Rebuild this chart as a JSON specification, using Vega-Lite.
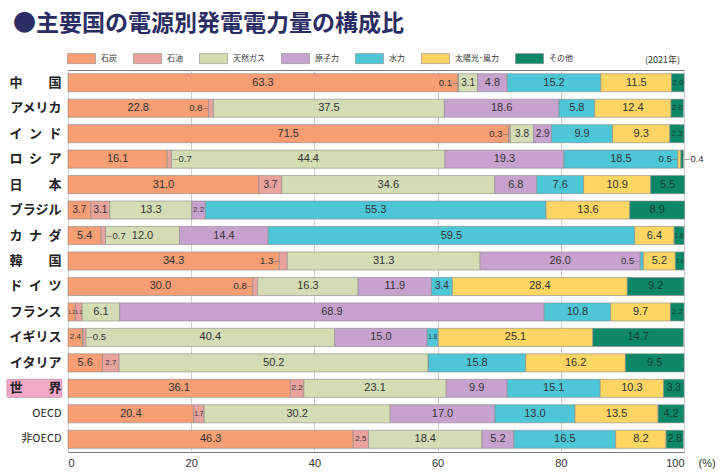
{
  "$schema": "https://vega.github.io/schema/vega-lite/v6.json",
  "width": 616,
  "height": 382,
  "autosize": {"type": "none"},
  "padding": {"left": 68, "top": 70, "right": 43, "bottom": 20},
  "background": "#ffffff",
  "config": {
    "font": "Noto Sans CJK JP",
    "view": {"stroke": "#7a7a7a", "strokeWidth": 1}
  },
  "title": {
    "text": "●主要国の電源別発電電力量の構成比",
    "anchor": "start",
    "frame": "group",
    "fontSize": 23,
    "fontWeight": "bold",
    "color": "#2a2d63",
    "font": "Noto Sans CJK JP",
    "dx": -55,
    "offset": 8
  },
  "data": {
    "values": [
      {"c": "中\u3000\u3000国", "s": "石炭", "v": 63.3}, {"c": "中\u3000\u3000国", "s": "石油", "v": 0.1}, {"c": "中\u3000\u3000国", "s": "天然ガス", "v": 3.1}, {"c": "中\u3000\u3000国", "s": "原子力", "v": 4.8}, {"c": "中\u3000\u3000国", "s": "水力", "v": 15.2}, {"c": "中\u3000\u3000国", "s": "太陽光･風力", "v": 11.5}, {"c": "中\u3000\u3000国", "s": "その他", "v": 2.0},
      {"c": "アメリカ", "s": "石炭", "v": 22.8}, {"c": "アメリカ", "s": "石油", "v": 0.8}, {"c": "アメリカ", "s": "天然ガス", "v": 37.5}, {"c": "アメリカ", "s": "原子力", "v": 18.6}, {"c": "アメリカ", "s": "水力", "v": 5.8}, {"c": "アメリカ", "s": "太陽光･風力", "v": 12.4}, {"c": "アメリカ", "s": "その他", "v": 2.0},
      {"c": "イ\u2002ン\u2002ド", "s": "石炭", "v": 71.5}, {"c": "イ\u2002ン\u2002ド", "s": "石油", "v": 0.3}, {"c": "イ\u2002ン\u2002ド", "s": "天然ガス", "v": 3.8}, {"c": "イ\u2002ン\u2002ド", "s": "原子力", "v": 2.9}, {"c": "イ\u2002ン\u2002ド", "s": "水力", "v": 9.9}, {"c": "イ\u2002ン\u2002ド", "s": "太陽光･風力", "v": 9.3}, {"c": "イ\u2002ン\u2002ド", "s": "その他", "v": 2.3},
      {"c": "ロ\u2002シ\u2002ア", "s": "石炭", "v": 16.1}, {"c": "ロ\u2002シ\u2002ア", "s": "石油", "v": 0.7}, {"c": "ロ\u2002シ\u2002ア", "s": "天然ガス", "v": 44.4}, {"c": "ロ\u2002シ\u2002ア", "s": "原子力", "v": 19.3}, {"c": "ロ\u2002シ\u2002ア", "s": "水力", "v": 18.5}, {"c": "ロ\u2002シ\u2002ア", "s": "太陽光･風力", "v": 0.5}, {"c": "ロ\u2002シ\u2002ア", "s": "その他", "v": 0.4},
      {"c": "日\u3000\u3000本", "s": "石炭", "v": 31.0}, {"c": "日\u3000\u3000本", "s": "石油", "v": 3.7}, {"c": "日\u3000\u3000本", "s": "天然ガス", "v": 34.6}, {"c": "日\u3000\u3000本", "s": "原子力", "v": 6.8}, {"c": "日\u3000\u3000本", "s": "水力", "v": 7.6}, {"c": "日\u3000\u3000本", "s": "太陽光･風力", "v": 10.9}, {"c": "日\u3000\u3000本", "s": "その他", "v": 5.5},
      {"c": "ブラジル", "s": "石炭", "v": 3.7}, {"c": "ブラジル", "s": "石油", "v": 3.1}, {"c": "ブラジル", "s": "天然ガス", "v": 13.3}, {"c": "ブラジル", "s": "原子力", "v": 2.2}, {"c": "ブラジル", "s": "水力", "v": 55.3}, {"c": "ブラジル", "s": "太陽光･風力", "v": 13.6}, {"c": "ブラジル", "s": "その他", "v": 8.9},
      {"c": "カ\u2002ナ\u2002ダ", "s": "石炭", "v": 5.4}, {"c": "カ\u2002ナ\u2002ダ", "s": "石油", "v": 0.7}, {"c": "カ\u2002ナ\u2002ダ", "s": "天然ガス", "v": 12.0}, {"c": "カ\u2002ナ\u2002ダ", "s": "原子力", "v": 14.4}, {"c": "カ\u2002ナ\u2002ダ", "s": "水力", "v": 59.5}, {"c": "カ\u2002ナ\u2002ダ", "s": "太陽光･風力", "v": 6.4}, {"c": "カ\u2002ナ\u2002ダ", "s": "その他", "v": 1.6},
      {"c": "韓\u3000\u3000国", "s": "石炭", "v": 34.3}, {"c": "韓\u3000\u3000国", "s": "石油", "v": 1.3}, {"c": "韓\u3000\u3000国", "s": "天然ガス", "v": 31.3}, {"c": "韓\u3000\u3000国", "s": "原子力", "v": 26.0}, {"c": "韓\u3000\u3000国", "s": "水力", "v": 0.5}, {"c": "韓\u3000\u3000国", "s": "太陽光･風力", "v": 5.2}, {"c": "韓\u3000\u3000国", "s": "その他", "v": 1.4},
      {"c": "ド\u2002イ\u2002ツ", "s": "石炭", "v": 30.0}, {"c": "ド\u2002イ\u2002ツ", "s": "石油", "v": 0.8}, {"c": "ド\u2002イ\u2002ツ", "s": "天然ガス", "v": 16.3}, {"c": "ド\u2002イ\u2002ツ", "s": "原子力", "v": 11.9}, {"c": "ド\u2002イ\u2002ツ", "s": "水力", "v": 3.4}, {"c": "ド\u2002イ\u2002ツ", "s": "太陽光･風力", "v": 28.4}, {"c": "ド\u2002イ\u2002ツ", "s": "その他", "v": 9.2},
      {"c": "フランス", "s": "石炭", "v": 1.2}, {"c": "フランス", "s": "石油", "v": 1.1}, {"c": "フランス", "s": "天然ガス", "v": 6.1}, {"c": "フランス", "s": "原子力", "v": 68.9}, {"c": "フランス", "s": "水力", "v": 10.8}, {"c": "フランス", "s": "太陽光･風力", "v": 9.7}, {"c": "フランス", "s": "その他", "v": 2.2},
      {"c": "イギリス", "s": "石炭", "v": 2.4}, {"c": "イギリス", "s": "石油", "v": 0.5}, {"c": "イギリス", "s": "天然ガス", "v": 40.4}, {"c": "イギリス", "s": "原子力", "v": 15.0}, {"c": "イギリス", "s": "水力", "v": 1.8}, {"c": "イギリス", "s": "太陽光･風力", "v": 25.1}, {"c": "イギリス", "s": "その他", "v": 14.7},
      {"c": "イタリア", "s": "石炭", "v": 5.6}, {"c": "イタリア", "s": "石油", "v": 2.7}, {"c": "イタリア", "s": "天然ガス", "v": 50.2}, {"c": "イタリア", "s": "原子力", "v": 0}, {"c": "イタリア", "s": "水力", "v": 15.8}, {"c": "イタリア", "s": "太陽光･風力", "v": 16.2}, {"c": "イタリア", "s": "その他", "v": 9.5},
      {"c": "世\u3000\u3000界", "s": "石炭", "v": 36.1}, {"c": "世\u3000\u3000界", "s": "石油", "v": 2.2}, {"c": "世\u3000\u3000界", "s": "天然ガス", "v": 23.1}, {"c": "世\u3000\u3000界", "s": "原子力", "v": 9.9}, {"c": "世\u3000\u3000界", "s": "水力", "v": 15.1}, {"c": "世\u3000\u3000界", "s": "太陽光･風力", "v": 10.3}, {"c": "世\u3000\u3000界", "s": "その他", "v": 3.3},
      {"c": "OECD", "s": "石炭", "v": 20.4}, {"c": "OECD", "s": "石油", "v": 1.7}, {"c": "OECD", "s": "天然ガス", "v": 30.2}, {"c": "OECD", "s": "原子力", "v": 17.0}, {"c": "OECD", "s": "水力", "v": 13.0}, {"c": "OECD", "s": "太陽光･風力", "v": 13.5}, {"c": "OECD", "s": "その他", "v": 4.2},
      {"c": "非OECD", "s": "石炭", "v": 46.3}, {"c": "非OECD", "s": "石油", "v": 2.5}, {"c": "非OECD", "s": "天然ガス", "v": 18.4}, {"c": "非OECD", "s": "原子力", "v": 5.2}, {"c": "非OECD", "s": "水力", "v": 16.5}, {"c": "非OECD", "s": "太陽光･風力", "v": 8.2}, {"c": "非OECD", "s": "その他", "v": 2.8}
    ]
  },
  "transform": [
    {"calculate": "indexof(['石炭','石油','天然ガス','原子力','水力','太陽光･風力','その他'], datum.s)", "as": "idx"},
    {"stack": "v", "groupby": ["c"], "sort": [{"field": "idx", "order": "ascending"}], "as": ["x0", "x1"]},
    {"calculate": "(datum.x0 + datum.x1) / 2", "as": "mid"},
    {"calculate": "datum.c + '|' + datum.s", "as": "key"},
    {"calculate": "indexof(['中\u3000\u3000国|石油','アメリカ|石油','イ\u2002ン\u2002ド|石油','韓\u3000\u3000国|石油','韓\u3000\u3000国|水力','ド\u2002イ\u2002ツ|石油','ロ\u2002シ\u2002ア|太陽光･風力'], datum.key) >= 0 ? 'L' : (indexof(['ロ\u2002シ\u2002ア|石油','カ\u2002ナ\u2002ダ|石油','イギリス|石油','ロ\u2002シ\u2002ア|その他'], datum.key) >= 0 ? 'R' : 'I')", "as": "side"}
  ],
  "encoding": {
    "y": {
      "field": "c",
      "type": "nominal",
      "sort": ["中\u3000\u3000国", "アメリカ", "イ\u2002ン\u2002ド", "ロ\u2002シ\u2002ア", "日\u3000\u3000本", "ブラジル", "カ\u2002ナ\u2002ダ", "韓\u3000\u3000国", "ド\u2002イ\u2002ツ", "フランス", "イギリス", "イタリア", "世\u3000\u3000界", "OECD", "非OECD"],
      "scale": {"paddingInner": 0.29, "paddingOuter": 0.145},
      "axis": {
        "title": null,
        "domain": false,
        "ticks": false,
        "labelPadding": 7,
        "zindex": 1,
        "labelFont": "Noto Sans CJK JP",
        "labelColor": "#222222",
        "labelFontSize": {"condition": {"test": "datum.value === 'OECD' || datum.value === '非OECD'", "value": 11}, "value": 13},
        "labelFontWeight": {"condition": {"test": "datum.value === 'OECD' || datum.value === '非OECD'", "value": "normal"}, "value": "bold"}
      }
    }
  },
  "layer": [
    {
      "mark": {"type": "bar", "stroke": "#8a8a8a", "strokeWidth": 0.6},
      "encoding": {
        "x": {
          "field": "x0",
          "type": "quantitative",
          "scale": {"domain": [0, 100], "nice": false},
          "axis": {
            "orient": "bottom",
            "values": [0, 20, 40, 60, 80, 100],
            "domain": false,
            "ticks": false,
            "grid": true,
            "gridColor": "#cfcfcf",
            "labelFontSize": 11,
            "labelColor": "#333333",
            "labelFont": "Liberation Sans",
            "labelPadding": 5,
            "title": "(%)",
            "titleFont": "Liberation Sans",
            "titleFontSize": 11,
            "titleFontWeight": "normal",
            "titleColor": "#333333",
            "titleX": 630,
            "titleY": 11,
            "titleAlign": "left",
            "titleBaseline": "middle"
          }
        },
        "x2": {"field": "x1"},
        "color": {
          "field": "s",
          "type": "nominal",
          "scale": {
            "domain": ["石炭", "石油", "天然ガス", "原子力", "水力", "太陽光･風力", "その他"],
            "range": ["#F89E74", "#E9A29C", "#D4DCB4", "#C8A2CF", "#4DC6D8", "#FCD563", "#0C8868"]
          },
          "legend": {
            "title": "(2021年)",
            "titleOrient": "right",
            "titleAnchor": "end",
            "titlePadding": 72,
            "titleFontSize": 9,
            "titleFontWeight": "normal",
            "titleColor": "#333333",
            "titleBaseline": "bottom",
            "orient": "none",
            "legendX": -1,
            "legendY": -26,
            "direction": "horizontal",
            "symbolType": "M-1,-0.36H1V0.36H-1Z",
            "symbolSize": 784,
            "symbolStrokeColor": "#8a8a8a",
            "symbolStrokeWidth": 0.6,
            "symbolOpacity": 1,
            "labelFontSize": 8,
            "labelColor": "#333333",
            "labelOffset": 5,
            "columnPadding": 15
          }
        }
      }
    },
    {
      "transform": [{"filter": "datum.c === '世\u3000\u3000界' && datum.s === '石炭'"}],
      "mark": {"type": "rect", "fill": "#F4A8C8", "stroke": "#c98aa6", "strokeWidth": 0.8, "cornerRadius": 1},
      "encoding": {
        "x": {"datum": -9.9, "type": "quantitative"},
        "x2": {"datum": -1.0}
      }
    },
    {
      "transform": [{"filter": "datum.side === 'I' && datum.v > 0"}],
      "mark": {"type": "text", "baseline": "middle", "align": "center", "font": "Liberation Sans"},
      "encoding": {
        "x": {"field": "mid", "type": "quantitative"},
        "text": {"field": "v", "type": "quantitative", "format": ".1f"},
        "size": {
          "condition": [
            {"test": "datum.v < 1.5", "value": 5},
            {"test": "datum.v < 2", "value": 6.5},
            {"test": "datum.v < 2.8", "value": 8},
            {"test": "datum.v < 4", "value": 10}
          ],
          "value": 11
        },
        "color": {"condition": {"test": "datum.s === 'その他'", "value": "#143d31"}, "value": "#333333"}
      }
    },
    {
      "transform": [{"filter": "datum.side === 'L'"}],
      "mark": {"type": "text", "baseline": "middle", "align": "right", "font": "Liberation Sans", "fontSize": 9.5, "color": "#333333", "dx": -6},
      "encoding": {
        "x": {"field": "x0", "type": "quantitative"},
        "text": {"field": "v", "type": "quantitative", "format": ".1f"}
      }
    },
    {
      "transform": [{"filter": "datum.side === 'L'"}],
      "mark": {"type": "text", "baseline": "middle", "align": "right", "font": "Liberation Sans", "fontSize": 9.5, "color": "#777777", "text": "–", "dx": -0.5},
      "encoding": {
        "x": {"field": "x0", "type": "quantitative"}
      }
    },
    {
      "transform": [{"filter": "datum.side === 'R'"}],
      "mark": {"type": "text", "baseline": "middle", "align": "left", "font": "Liberation Sans", "fontSize": 9.5, "color": "#333333", "dx": 7},
      "encoding": {
        "x": {"field": "x1", "type": "quantitative"},
        "text": {"field": "v", "type": "quantitative", "format": ".1f"}
      }
    },
    {
      "transform": [{"filter": "datum.side === 'R'"}],
      "mark": {"type": "text", "baseline": "middle", "align": "left", "font": "Liberation Sans", "fontSize": 9.5, "color": "#777777", "text": "–", "dx": 1},
      "encoding": {
        "x": {"field": "x1", "type": "quantitative"}
      }
    }
  ]
}
